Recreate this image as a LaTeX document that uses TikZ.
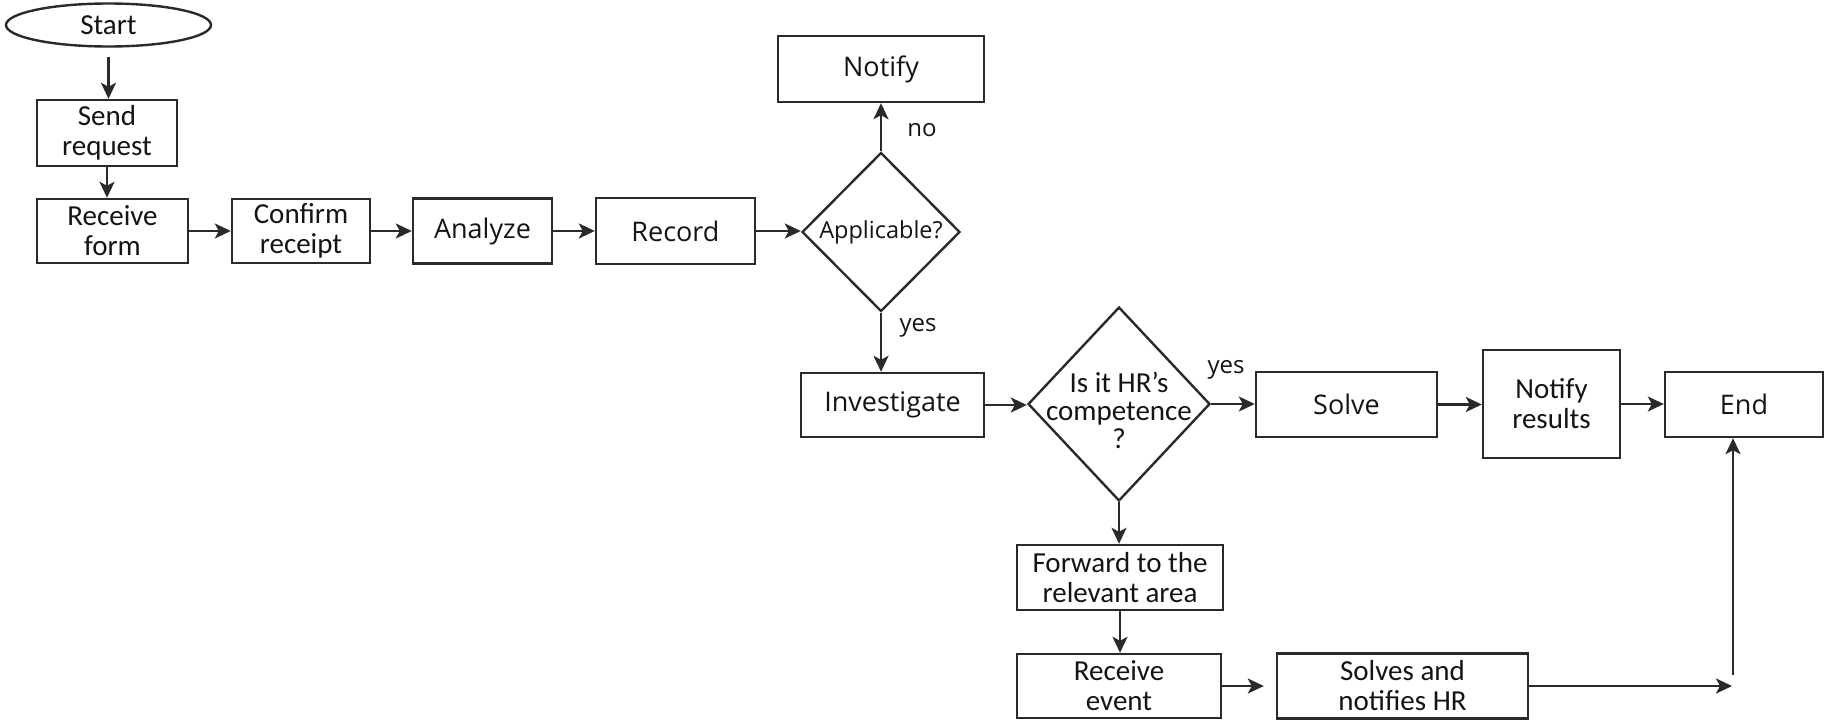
\documentclass[tikz,border=0pt]{standalone}
\usepackage{fontspec}
\setmainfont{Carlito}
\newfontfamily\segoe{Open Sans}
\usetikzlibrary{shapes.geometric,arrows.meta}
\definecolor{ln}{HTML}{2A2A2A}
\definecolor{tx}{HTML}{141414}
\begin{document}
\begin{tikzpicture}[x=1pt,y=-1pt,
  box/.style={draw=ln, line width=2.4pt, rectangle, inner sep=0pt, align=center,
    font=\fontsize{29}{30}\selectfont, text=tx},
  sbox/.style={box, font=\segoe\fontsize{27}{30}\selectfont},
  oval/.style={draw=ln, line width=2.4pt, ellipse, inner sep=0pt, align=center,
    font=\fontsize{29}{30}\selectfont, text=tx},
  diam/.style={draw=ln, line width=2.4pt, diamond, inner sep=0pt},
  lbl/.style={font=\segoe\fontsize{24}{26}\selectfont, text=tx, inner sep=0pt},
  arr/.style={draw=ln, line width=2.4pt, -{Stealth[length=16pt,width=15pt,inset=4pt]}},
]
\useasboundingbox (0,0) rectangle (1825,723);

\node[oval, minimum width=205pt, minimum height=43pt] (start) at (108.5,25) {Start};
\node[box, minimum width=140pt, minimum height=66pt] (send) at (107,133) {Send\\request};
\node[box, minimum width=151pt, minimum height=64pt] (recv) at (112.5,231) {Receive\\form};
\node[box, minimum width=138pt, minimum height=64pt] (conf) at (301,231) {Confirm\\receipt};
\node[sbox, minimum width=139pt, minimum height=65pt] (anal) at (482.5,231) {Analyze};
\node[sbox, minimum width=159pt, minimum height=66pt] (rec) at (675.5,231) {Record};
\node[diam, minimum width=158pt, minimum height=159pt,
  label={[font=\segoe\fontsize{23.5}{26}\selectfont, text=tx, inner sep=0pt]center:Applicable?}] (app) at (881,232) {};
\node[sbox, minimum width=206pt, minimum height=66pt] (notify) at (881,69) {Notify};
\node[sbox, minimum width=183pt, minimum height=64pt] (inv) at (892.5,405) {Investigate};
\node[diam, minimum width=182pt, minimum height=194pt,
  label={[font=\fontsize{29}{28}\selectfont, text=tx, align=center, inner sep=0pt, yshift=-6pt]center:Is it HR’s\\competence\\?}] (hr) at (1119,404) {};
\node[sbox, minimum width=181pt, minimum height=65pt] (solve) at (1346.5,404.5) {Solve};
\node[box, minimum width=137pt, minimum height=108pt] (nres) at (1551.5,404) {Notify\\results};
\node[sbox, minimum width=158pt, minimum height=65pt] (endn) at (1744,404.5) {End};
\node[box, minimum width=206pt, minimum height=65pt] (fwd) at (1120,577.5) {Forward to the\\relevant area};
\node[box, minimum width=204pt, minimum height=64pt] (rev) at (1119,686) {Receive\\event};
\node[box, minimum width=251pt, minimum height=65pt] (solves) at (1402.5,686) {Solves and\\notifies HR};

\node[lbl] (lno) at (922,130) {no};
\node[lbl] (lyes1) at (918,328) {yes};
\node[lbl] (lyes2) at (1226,370) {yes};

\coordinate (j1) at (1732,686);
\coordinate (j2) at (1733,675);

\draw[arr, shorten <=9pt] (start.south) -- (start.south |- send.north);
\draw[arr] (send.south) -- (send.south |- recv.north);
\draw[arr] (recv.east) -- (recv.east -| conf.west);
\draw[arr] (conf.east) -- (conf.east -| anal.west);
\draw[arr] (anal.east) -- (anal.east -| rec.west);
\draw[arr] (rec.east) -- (rec.east -| app.west);
\draw[arr] (app.north) -- (app.north |- notify.south);
\draw[arr] (app.south) -- (app.south |- inv.north);
\draw[arr] (inv.east) -- (inv.east -| hr.west);
\draw[arr] (hr.east) -- (hr.east -| solve.west);
\draw[arr] (solve.east) -- (solve.east -| nres.west);
\draw[arr] (nres.east) -- (nres.east -| endn.west);
\draw[arr] (hr.south) -- (hr.south |- fwd.north);
\draw[arr] (fwd.south) -- (fwd.south |- rev.north);
\draw[arr, shorten >=12pt] (rev.east) -- (rev.east -| solves.west);
\draw[arr] (solves.east) -- (j1);
\draw[arr] (j2) -- (j2 |- endn.south);
\end{tikzpicture}
\end{document}
